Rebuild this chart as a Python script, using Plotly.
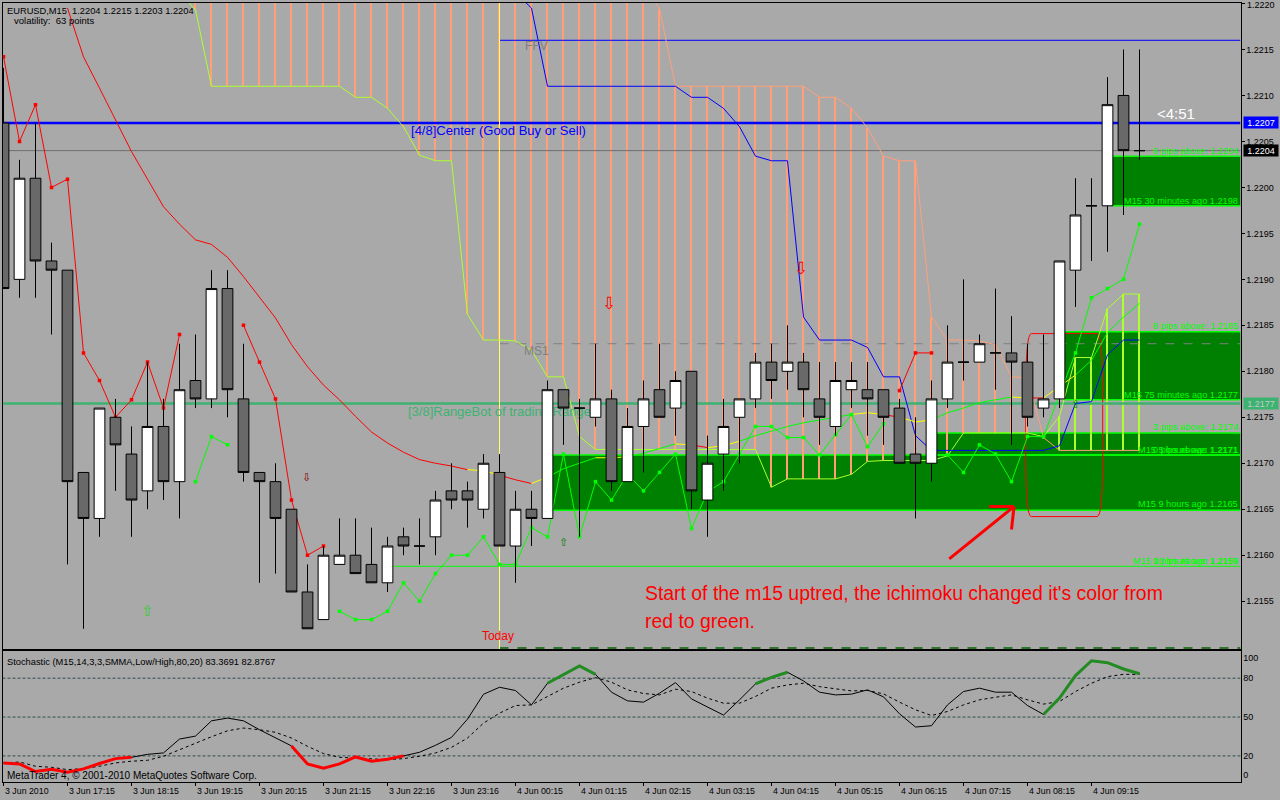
import plotly.graph_objects as go

# ---------------- PRICE BARS (M15, left to right) ----------------
opens = [1.2207, 1.2190, 1.2201, 1.2192, 1.2191, 1.2169, 1.2164, 1.2175, 1.2171, 1.2167, 1.2174, 1.2168,
         1.2179, 1.2177, 1.2189, 1.2177, 1.2169, 1.2168, 1.2165, 1.2156, 1.2153, 1.2159, 1.2160, 1.2159,
         1.2157, 1.2162, 1.2161, 1.2162, 1.2167, 1.2167, 1.2165, 1.2169, 1.2161, 1.2165, 1.2164, 1.2178,
         1.2176, 1.2175, 1.2177, 1.2168, 1.2174, 1.2178, 1.2176, 1.2180, 1.2166, 1.2171, 1.2175, 1.2177,
         1.2181, 1.2180, 1.2181, 1.2177, 1.2174, 1.2178, 1.2178, 1.2178, 1.2176, 1.2171, 1.2170, 1.2177,
         1.2181, 1.2181, 1.2182, 1.2182, 1.2181, 1.2176, 1.2177, 1.2191, 1.2198, 1.2198, 1.2210, 1.2204]
highs = [1.2213, 1.2203, 1.2207, 1.2194, 1.2191, 1.2169, 1.2176, 1.2177, 1.2174, 1.2181, 1.2177, 1.2183,
         1.2184, 1.2191, 1.2191, 1.2183, 1.2169, 1.2170, 1.2165, 1.2159, 1.2161, 1.2164, 1.2164, 1.2163,
         1.2162, 1.2163, 1.2164, 1.2167, 1.2170, 1.2168, 1.2171, 1.2171, 1.2167, 1.2167, 1.2179, 1.2178,
         1.2177, 1.2183, 1.2178, 1.2176, 1.2179, 1.2183, 1.2180, 1.2180, 1.2173, 1.2177, 1.2177, 1.2182,
         1.2183, 1.2185, 1.2182, 1.2181, 1.2181, 1.2181, 1.2181, 1.2178, 1.2177, 1.2175, 1.2179, 1.2185,
         1.2190, 1.2184, 1.2189, 1.2186, 1.2183, 1.2184, 1.2192, 1.2201, 1.2201, 1.2212, 1.2215, 1.2215]
lows = [1.2189, 1.2188, 1.2188, 1.2184, 1.2159, 1.2152, 1.2162, 1.2167, 1.2162, 1.2165, 1.2166, 1.2164,
        1.2176, 1.2176, 1.2175, 1.2168, 1.2157, 1.2158, 1.2156, 1.2152, 1.2153, 1.2159, 1.2158, 1.2157,
        1.2156, 1.2160, 1.2159, 1.2160, 1.2165, 1.2163, 1.2164, 1.2161, 1.2157, 1.2161, 1.2164, 1.2172,
        1.2162, 1.2174, 1.2167, 1.2168, 1.2169, 1.2175, 1.2173, 1.2165, 1.2162, 1.2167, 1.2170, 1.2176,
        1.2177, 1.2178, 1.2175, 1.2172, 1.2173, 1.2176, 1.2173, 1.2172, 1.2170, 1.2164, 1.2168, 1.2176,
        1.2179, 1.2181, 1.2178, 1.2172, 1.2174, 1.2175, 1.2176, 1.2187, 1.2192, 1.2193, 1.2197, 1.2203]
closes = [1.2189, 1.2201, 1.2192, 1.2191, 1.2168, 1.2164, 1.2176, 1.2172, 1.2166, 1.2174, 1.2168, 1.2178,
          1.2177, 1.2189, 1.2178, 1.2169, 1.2168, 1.2164, 1.2156, 1.2152, 1.2160, 1.2160, 1.2158, 1.2157,
          1.2161, 1.2161, 1.2161, 1.2166, 1.2166, 1.2166, 1.2170, 1.2161, 1.2165, 1.2164, 1.2178, 1.2176,
          1.2176, 1.2177, 1.2168, 1.2174, 1.2177, 1.2175, 1.2179, 1.2167, 1.2170, 1.2174, 1.2177, 1.2181,
          1.2179, 1.2181, 1.2178, 1.2175, 1.2179, 1.2179, 1.2177, 1.2175, 1.2170, 1.2170, 1.2177, 1.2181,
          1.2181, 1.2183, 1.2182, 1.2181, 1.2175, 1.2177, 1.2192, 1.2197, 1.2198, 1.2209, 1.2204, 1.2204]
bars = list(range(len(opens)))

# ---------------- ICHIMOKU CLOUD ----------------
# cloud edges start at bar 11, values above the top of the window are clipped
cloud_lower = [1.22212, 1.22193, 1.22110, 1.22110, 1.22110, 1.22110, 1.22110, 1.22110, 1.22110, 1.22110, 1.22110,
               1.22098, 1.22098, 1.22086, 1.22066, 1.22035, 1.22029, 1.22029, 1.21862, 1.21834, 1.21834, 1.21833,
               1.21823, 1.21794, 1.21794, 1.21729, 1.21715, 1.21715, 1.21715, 1.21715, 1.21715, 1.21715, 1.21715,
               1.21715, 1.21715, 1.21715, 1.21715, 1.21674, 1.21683, 1.21683, 1.21683, 1.21683, 1.21688, 1.21702,
               1.21703, 1.21703, 1.21703, 1.21703, 1.21708, 1.21733, 1.21733, 1.21733, 1.21733, 1.21733, 1.21729,
               1.21751, 1.21815, 1.21815, 1.21868, 1.21884, 1.21884]
cloud_upper = [1.2232, 1.2232, 1.2232, 1.2232, 1.2232, 1.2232, 1.2232, 1.2232, 1.2232, 1.2232, 1.2232,
               1.2232, 1.2232, 1.2232, 1.2232, 1.2232, 1.2232, 1.2232, 1.2232, 1.2232, 1.2232, 1.2232,
               1.2232, 1.2232, 1.2232, 1.2232, 1.2232, 1.2232, 1.2232, 1.2222, 1.22194, 1.22110, 1.22110,
               1.22110, 1.22110, 1.22110, 1.22110, 1.22110, 1.22110, 1.22110, 1.22098, 1.22098, 1.22086, 1.22065,
               1.22034, 1.22029, 1.22029, 1.21859, 1.21834, 1.21834, 1.21833, 1.21829, 1.21794, 1.21793, 1.21728,
               1.21714, 1.21714, 1.21714, 1.21714, 1.21714, 1.21714]
cloud_bars = list(range(11, 72))

# blue line, starts at bar 32
kijun = [1.22212, 1.22195, 1.22110, 1.22110, 1.22110, 1.22110, 1.22110, 1.22110, 1.22110, 1.22110, 1.22110,
         1.22098, 1.22098, 1.22086, 1.22066, 1.22034, 1.22029, 1.22029, 1.21859, 1.21834, 1.21834, 1.21834,
         1.21826, 1.21794, 1.21794, 1.21730, 1.21714, 1.21714, 1.21714, 1.21714, 1.21714, 1.21714, 1.21714,
         1.21714, 1.21719, 1.21765, 1.21767, 1.21818, 1.21834, 1.21834]
kijun_bars = list(range(32, 72))

# slow coloured average, starts at bar 4
slow_ma = [1.22195, 1.22142, 1.22108, 1.22073, 1.22039, 1.22009, 1.21979, 1.21960, 1.21943, 1.21938, 1.21924,
           1.21903, 1.21881, 1.21858, 1.21829, 1.21805, 1.21785, 1.21769, 1.21751, 1.21734, 1.21722, 1.21712,
           1.21704, 1.21700, 1.21697, 1.21693, 1.21692, 1.21687, 1.21682, 1.21678, 1.21685, 1.21694, 1.21700,
           1.21706, 1.21706, 1.21707, 1.21711, 1.21716, 1.21721, 1.21720, 1.21717, 1.21719, 1.21724, 1.21730,
           1.21735, 1.21740, 1.21744, 1.21747, 1.21750, 1.21753, 1.21755, 1.21753, 1.21750, 1.21745, 1.21747,
           1.21755, 1.21760, 1.21766, 1.21769, 1.21772, 1.21771, 1.21771, 1.21783, 1.21796, 1.21812, 1.21842,
           1.21859, 1.21874]
slow_ma_bars = list(range(4, 72))
slow_ma_run_end = [29, 31, 33, 34, 37, 39, 42, 43, 44, 46, 53, 55, 56, 58, 63, 64, 65, 67, 71]
slow_ma_run_color = ["#FF0000", "#FFFF00", "#FF0000", "#FFFF00", "#00FF00", "#FFFF00", "#00FF00", "#FFFF00",
                     "#FF0000", "#FFFF00", "#00FF00", "#FFFF00", "#FF0000", "#FFFF00", "#00FF00", "#FFFF00",
                     "#FF0000", "#FFFF00", "#00FF00"]

# fast dotted line, None where it changes colour
fast_red = [1.22142, 1.22050, 1.22090, 1.22000, 1.22009, 1.21820, 1.21790, 1.21750, 1.21769, 1.21810, 1.21760, 1.21840,
            None, None, None, 1.21850, 1.21810, 1.21770, 1.21660, 1.21600, 1.21610] + [None] * 35 + [1.21779, 1.21820, 1.21820] + [None] * 13
fast_green = [None] * 12 + [1.21680, 1.21729, 1.21720] + [None] * 6 + [
    1.21539, 1.21530, 1.21530, 1.21539, 1.21570, 1.21550, 1.21580, 1.21600, 1.21600, 1.21620, 1.21590, 1.21590,
    1.21630, 1.21620, 1.21710, 1.21620, 1.21680, 1.21660, 1.21688, 1.21670, 1.21690, 1.21710, 1.21629, 1.21669,
    1.21680, 1.21710, 1.21740, 1.21740, 1.21728, 1.21728, 1.21709, 1.21731, 1.21753, 1.21718, 1.21743,
    None, None, None,
    1.21709, 1.21690, 1.21720, 1.21710, 1.21680, 1.21729, 1.21729, 1.21774, 1.21820, 1.21880, 1.21890, 1.21900, 1.21960]

# ---------------- LEVELS AND ZONES ----------------
level_price = [1.2204, 1.2207, 1.21765, 1.2216, 1.2183, 1.21588, 1.21499]
level_start = [-0.0625, -0.0625, -0.0625, 31, 31, 24.4, 31]
level_color = ["#6E6E6E", "#0000FF", "#3CB371", "#0000FF", "#808080", "#00FF00", "#006400"]
level_width = [1, 2.5, 2.5, 1, 1, 1, 1.5]
level_dash = ["solid", "solid", "solid", "solid", "dash", "solid", "dash"]

zone_start = [34.3, 58.34, 66.3, 69.3]
zone_top = [1.21709, 1.21733, 1.21843, 1.22034]
zone_bottom = [1.21649, 1.21709, 1.21769, 1.21980]

# ---------------- STOCHASTIC ----------------
stoch_main = [14.6, 13.8, 7.9, 9.7, 7.4, 10.0, 14.1, 17.9, 18.9, 21.2, 22.3, 33.0, 35.3, 47.1, 49.2, 47.1, 40.2, 33.8,
              27.7, 13.8, 10.5, 13.8, 19.2, 15.9, 17.4, 20.0, 22.8, 28.2, 34.3, 48.4, 67.6, 73.0, 70.5, 59.4, 76.1,
              82.5, 89.4, 83.0, 69.2, 62.5, 61.5, 68.4, 76.6, 64.0, 57.7, 51.5, 63.3, 75.6, 80.7, 84.6, 77.9, 69.2,
              67.1, 67.7, 71.0, 65.6, 52.5, 42.3, 43.3, 59.4, 69.7, 72.3, 69.2, 69.2, 58.9, 52.0, 64.6, 82.0, 93.5,
              92.0, 87.1, 83.4]
stoch_signal = [14.6, 15.3, 12.0, 11.2, 9.4, 10.2, 12.0, 14.6, 15.9, 16.6, 19.7, 24.8, 29.4, 34.8, 39.4, 41.5, 40.2,
                38.2, 33.8, 27.4, 21.8, 18.9, 18.4, 17.9, 17.1, 17.9, 19.7, 22.3, 26.6, 33.8, 45.3, 53.0, 58.9, 59.4,
                65.9, 72.3, 76.9, 80.5, 76.9, 71.0, 68.2, 67.1, 71.5, 69.7, 64.6, 60.7, 60.7, 65.9, 72.3, 74.8, 76.1,
                73.5, 71.8, 70.2, 70.5, 67.9, 61.5, 55.6, 51.2, 54.3, 59.4, 63.3, 65.3, 67.1, 63.3, 60.0, 62.0, 69.7,
                76.1, 81.2, 83.0, 82.9]
stoch_levels = [80, 50, 20]
stoch_red_runs = [(0, 8), (18, 25)]
stoch_green_runs = [(34, 37), (47, 49), (65, 71)]

# ---------------- AXIS LABELS ----------------
price_ticks = [1.2220, 1.2215, 1.2210, 1.2205, 1.2200, 1.2195, 1.2190, 1.2185, 1.2180, 1.2175, 1.2170, 1.2165, 1.2160, 1.2155]
stoch_tick_pos = [95.6, 80, 50, 20, 5]
stoch_tick_text = ["100", "80", "50", "20", "0"]
time_tick_bars = list(range(0, 72, 4))
time_labels = ["3 Jun 2010", "3 Jun 17:15", "3 Jun 18:15", "3 Jun 19:15", "3 Jun 20:15", "3 Jun 21:15",
               "3 Jun 22:16", "3 Jun 23:16", "4 Jun 00:15", "4 Jun 01:15", "4 Jun 02:15", "4 Jun 03:15",
               "4 Jun 04:15", "4 Jun 05:15", "4 Jun 06:15", "4 Jun 07:15", "4 Jun 08:15", "4 Jun 09:15"]

# arrows placed by the expert on the chart
arrow_bars = [37.85, 49.85, 18.95, 9.0, 35.0, 67.0]
arrow_prices = [1.21872, 1.21910, 1.21684, 1.21538, 1.21613, 1.21763]
arrow_glyphs = ["\u21e9", "\u21e9", "\u21e9", "\u21e7", "\u21e7", "\u21e7"]
arrow_colors = ["#FF0000", "#FF0000", "#8B0000", "#32CD32", "#008000", "#008000"]
arrow_sizes = [17, 17, 11, 15, 11, 11]

# hand drawn red pointer and box
pointer_x = [59.11, 63.16, None, 61.61, 63.16, None, 63.16, 63.0]
pointer_y = [1.21596, 1.21653, None, 1.21653, 1.21653, None, 1.21653, 1.21628]
box_x0, box_x1 = 63.89, 68.70
box_y0, box_y1 = 1.21642, 1.21841

X_RANGE = [-0.0625, 77.3125]
Y_RANGE = [1.21498, 1.222011]
FONT = "Liberation Sans"
BG = "#A9A9A9"

fig = go.Figure()

# cloud bars sit at the back
fig.add_trace(go.Bar(
    x=cloud_bars[1:],
    y=[abs(u - l) for u, l in zip(cloud_upper[1:], cloud_lower[1:])],
    base=[min(u, l) for u, l in zip(cloud_upper[1:], cloud_lower[1:])],
    width=0.125,
    offset=-0.09375,
    marker=dict(color=["#FFA07A" if u > l else "#ADFF2F" for u, l in zip(cloud_upper[1:], cloud_lower[1:])], line_width=0)
))

for price, start, color, width, dash in zip(level_price, level_start, level_color, level_width, level_dash):
    fig.add_trace(go.Scatter(x=[start, X_RANGE[1]], y=[price, price], mode='lines',
                             line=dict(color=color, width=width, dash=dash)))

fig.add_trace(go.Scatter(x=[31, 31], y=Y_RANGE, mode='lines', line=dict(color="#FFFF66", width=1)))

fig.add_trace(go.Scatter(x=cloud_bars, y=cloud_lower, mode='lines', line=dict(color="#ADFF2F", width=1)))
fig.add_trace(go.Scatter(x=cloud_bars, y=cloud_upper, mode='lines', line=dict(color="#FFA07A", width=1)))
fig.add_trace(go.Scatter(x=kijun_bars, y=kijun, mode='lines', line=dict(color="#0000FF", width=1)))

# slow average changes colour along the way
run_start = slow_ma_bars[0]
for run_end, run_color in zip(slow_ma_run_end, slow_ma_run_color):
    i0 = run_start - slow_ma_bars[0]
    i1 = run_end - slow_ma_bars[0] + 1
    fig.add_trace(go.Scatter(x=slow_ma_bars[i0:i1], y=slow_ma[i0:i1], mode='lines',
                             line=dict(color=run_color, width=1)))
    run_start = run_end

fig.add_trace(go.Scatter(x=bars, y=fast_red, mode='lines+markers',
                         line=dict(color="#FF0000", width=1),
                         marker=dict(symbol='square', size=3.5, color="#FF0000")))
fig.add_trace(go.Scatter(x=bars, y=fast_green, mode='lines+markers',
                         line=dict(color="#00FF00", width=1),
                         marker=dict(symbol='square', size=3.5, color="#00FF00")))

# text that the candles cover
fig.add_trace(go.Scatter(
    x=[25.47, 25.28, 32.53, 32.6, 29.9],
    y=[1.22061, 1.21755, 1.21821, 1.22153, 1.21511],
    mode='text',
    text=["[4/8]Center (Good Buy or Sell)", "[3/8]RangeBot of trading Range", "MS1", "FFV", "Today"],
    textposition="middle right",
    textfont=dict(family=FONT, size=[13, 13, 12, 12, 12], color=["#0000FF", "#3CB371", "#808080", "#808080", "#FF0000"])
))

# candles on an overlaid axis, so they cover the scatter lines
fig.add_trace(go.Candlestick(
    x=bars, open=opens, high=highs, low=lows, close=closes,
    yaxis='y3',
    increasing=dict(fillcolor="#FFFFFF", line=dict(color="#000000", width=1)),
    decreasing=dict(fillcolor="#696969", line=dict(color="#000000", width=1)),
    whiskerwidth=0
))
fig.add_trace(go.Scatter(x=pointer_x, y=pointer_y, yaxis='y3', mode='lines',
                         line=dict(color="#FF0000", width=3)))
fig.add_trace(go.Scatter(x=arrow_bars, y=arrow_prices, yaxis='y3', mode='text', text=arrow_glyphs,
                         textfont=dict(family="DejaVu Sans", size=arrow_sizes, color=arrow_colors)))

# ---------------- STOCHASTIC PANEL ----------------
for level in stoch_levels:
    fig.add_trace(go.Scatter(x=X_RANGE, y=[level, level], xaxis='x2', yaxis='y2', mode='lines',
                             line=dict(color="#2F4F4F", width=1, dash='3px,2px')))
fig.add_trace(go.Scatter(x=bars, y=stoch_signal, xaxis='x2', yaxis='y2', mode='lines',
                         line=dict(color="#000000", width=1, dash='dot')))
fig.add_trace(go.Scatter(x=bars, y=stoch_main, xaxis='x2', yaxis='y2', mode='lines',
                         line=dict(color="#000000", width=1)))
for runs, color in [(stoch_red_runs, "#FF0000"), (stoch_green_runs, "#228B22")]:
    for a, b in runs:
        fig.add_trace(go.Scatter(x=bars[a:b + 1], y=stoch_main[a:b + 1], xaxis='x2', yaxis='y2', mode='lines',
                                 line=dict(color=color, width=3)))

# ---------------- ZONES AND BOX ----------------
shapes = []
for start, top, bottom in zip(zone_start, zone_top, zone_bottom):
    shapes.append(dict(type='rect', xref='x', yref='y', layer='below', x0=start, x1=X_RANGE[1], y0=bottom, y1=top,
                       fillcolor="#008000", line_width=0))
for start, top, bottom in zip(zone_start, zone_top, zone_bottom):
    for edge in (top, bottom):
        shapes.append(dict(type='line', xref='x', yref='y', layer='below', x0=start, x1=X_RANGE[1], y0=edge, y1=edge,
                           line=dict(color="#00FF00", width=1.5)))
rx, ry = 0.35, 0.00065
shapes.append(dict(
    type='path', xref='x', yref='y', layer='below', line=dict(color="#FF0000", width=1),
    path=f"M {box_x0 + rx},{box_y1} L {box_x1 - rx},{box_y1} Q {box_x1},{box_y1} {box_x1},{box_y1 - ry} "
         f"L {box_x1},{box_y0 + ry} Q {box_x1},{box_y0} {box_x1 - rx},{box_y0} "
         f"L {box_x0 + rx},{box_y0} Q {box_x0},{box_y0} {box_x0},{box_y0 + ry} "
         f"L {box_x0},{box_y1 - ry} Q {box_x0},{box_y1} {box_x0 + rx},{box_y1} Z"
))


# ---------------- TEXT ON THE PAGE ----------------
def label(text, px, py, color="#000000", size=10, anchor='left', family=FONT, **kw):
    return dict(text=text, xref='paper', yref='paper', x=px / 1280, y=1 - py / 800, xanchor=anchor, yanchor='middle',
                showarrow=False, borderpad=0, font=dict(family=family, size=size, color=color), **kw)


notes = [
    label("EURUSD,M15  1.2204 1.2215 1.2203 1.2204", 6, 10.5, size=9.3),
    label("volatility:  63 points", 13, 20.5, size=9.5),
    label("&lt;4:51", 1156, 114, color="#FFFFFF", size=15),
    label("Start of the m15 uptred, the ichimoku changed it's color from", 644, 593, color="#FF0000", size=19.4),
    label("red to green.", 644, 621, color="#FF0000", size=19.4),
    label("Stochastic (M15,14,3,3,SMMA,Low/High,80,20) 83.3691 82.8767", 6, 661.5, size=9.3),
    label("MetaTrader 4, \u00a9 2001-2010 MetaQuotes Software Corp.", 6, 775, size=10),
    label("1.2220", 1246, 5, size=9),
]

# green pip labels, right aligned against the price axis
pip_labels = ["6 pips above: 1.2204", "M15 30 minutes ago 1.2198", "8 pips above: 1.2185", "M15 75 minutes ago 1.2177",
              "3 pips above: 1.2174", "M15 5 hours ago 1.2171", "0 pips above: 1.2171", "M15 9 hours ago 1.2165",
              "M15 10 hours ago 1.2159", "0 pips above: 1.2159"]
pip_rows = [150.7, 200.7, 325.7, 395, 426.7, 450, 450, 504.3, 560.5, 560.5]
for text, row in zip(pip_labels, pip_rows):
    notes.append(label(text, 1238.5, row, color="#00FF00", size=9.2, anchor='right'))

# price tags on the axis
tag_labels = ["1.2207", "1.2204", "1.2177"]
tag_rows = [122.5, 151, 403.5]
tag_fill = ["#0000FF", "#000000", "#3CB371"]
tag_text = ["#FFFFFF", "#FFFFFF", "#C8C8C8"]
for text, row, fill, color in zip(tag_labels, tag_rows, tag_fill, tag_text):
    notes.append(label(text, 1243, row, color=color, size=9, bgcolor=fill, width=34, height=11, align='center'))

for bar, text in zip(time_tick_bars, time_labels):
    notes.append(label(text, 3.5 + 16 * bar, 790.5, size=8.8))

axis_font = dict(family=FONT, size=9, color="#000000")
fig.update_layout(
    width=1280,
    height=800,
    margin=dict(l=0, r=0, t=0, b=0),
    paper_bgcolor=BG,
    plot_bgcolor=BG,
    showlegend=False,
    barmode='overlay',
    boxgap=0.33,
    boxgroupgap=0,
    shapes=shapes,
    annotations=notes,
    xaxis=dict(domain=[2.5 / 1280, 1240.5 / 1280], range=X_RANGE, anchor='y', showticklabels=False, ticks='',
               showgrid=False, zeroline=False, showline=True, linecolor="#000000", linewidth=1, mirror=True,
               rangeslider=dict(visible=False)),
    yaxis=dict(domain=[151 / 800, 797.5 / 800], range=Y_RANGE, anchor='x', side='right', tickvals=price_ticks,
               ticktext=[""] + [f"{p:.4f}" for p in price_ticks[1:]], ticks='outside', ticklen=3,
               tickcolor="#000000", tickfont=axis_font,
               showgrid=False, zeroline=False, showline=True, linecolor="#000000", linewidth=1, mirror=True),
    yaxis3=dict(domain=[151 / 800, 797.5 / 800], range=Y_RANGE, anchor='x', overlaying='y', visible=False),
    xaxis2=dict(domain=[2.5 / 1280, 1240.5 / 1280], range=X_RANGE, anchor='y2', tickvals=time_tick_bars,
                ticktext=[""] * len(time_tick_bars), ticks='outside', ticklen=3, tickcolor="#000000",
                showgrid=False, zeroline=False, showline=True, linecolor="#000000", linewidth=1, mirror=True),
    yaxis2=dict(domain=[18 / 800, 149 / 800], range=[-0.15, 101], anchor='x2', side='right', tickvals=stoch_tick_pos,
                ticktext=stoch_tick_text, ticks='', tickfont=axis_font,
                showgrid=False, zeroline=False, showline=True, linecolor="#000000", linewidth=1, mirror=True),
)

fig.write_html("out.html", config={'displayModeBar': False},
               post_script="document.body.style.margin='0';document.body.style.background='#A9A9A9';")
